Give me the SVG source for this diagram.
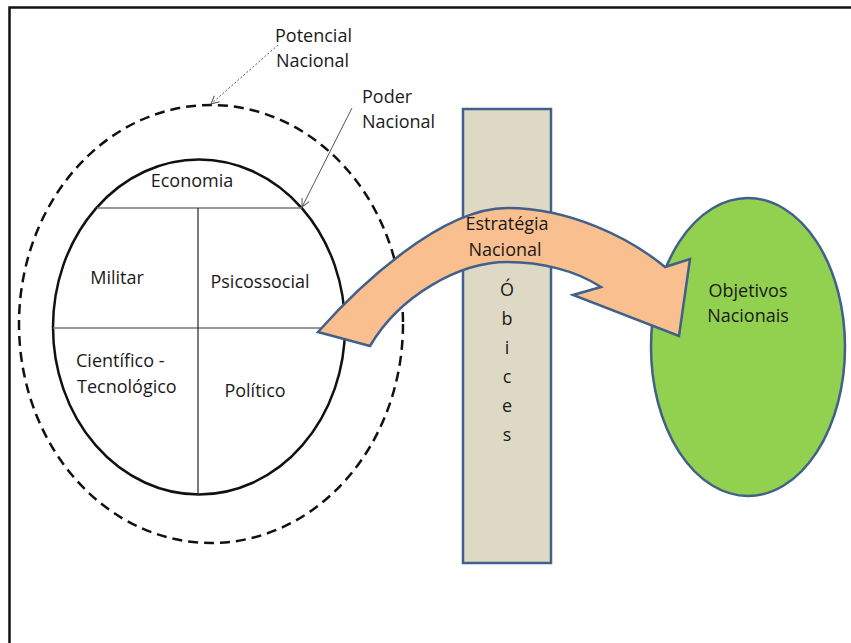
<svg xmlns="http://www.w3.org/2000/svg" width="851" height="643" viewBox="0 0 851 643">
<defs>
<style>
text{font-family:"Open Sans","Liberation Sans",sans-serif;font-size:18px;fill:#1a1a1a}
.mid{text-anchor:middle}
.div{stroke:#777;stroke-width:1.5;fill:none}
.ptr{stroke:#555;stroke-width:1;fill:none}
</style>
<marker id="open" markerWidth="10" markerHeight="10" refX="9" refY="5" orient="auto" markerUnits="userSpaceOnUse">
<path d="M1,1 L9,5 L1,9" fill="none" stroke="#555" stroke-width="1"/>
</marker>
</defs>
<rect x="9.5" y="7.5" width="900" height="700" fill="#fff" stroke="#111" stroke-width="2.5"/>

<g id="potencial-nacional">
<ellipse cx="211" cy="324" rx="192" ry="219" fill="none" stroke="#111" stroke-width="2.5" stroke-dasharray="10,6"/>
<text x="275" y="42">Potencial</text>
<text x="276" y="67">Nacional</text>
</g>

<g id="poder-nacional">
<ellipse cx="199" cy="327" rx="146" ry="167.5" fill="#fff" stroke="#111" stroke-width="2.5"/>
<line class="div" x1="97" y1="208" x2="302" y2="208"/>
<line class="div" x1="53" y1="328" x2="345" y2="328"/>
<line x1="198" y1="208" x2="198" y2="495" stroke="#222" stroke-width="1.2"/>
<text x="362" y="103">Poder</text>
<text x="362" y="128">Nacional</text>
</g>

<g id="economia"><text class="mid" x="192" y="187">Economia</text></g>
<g id="militar"><text class="mid" x="117" y="284">Militar</text></g>
<g id="psicossocial"><text class="mid" x="260" y="288">Psicossocial</text></g>
<g id="cientifico-tecnologico"><text x="76" y="367">Científico -</text><text x="77" y="393">Tecnológico</text></g>
<g id="politico"><text class="mid" x="255" y="397">Político</text></g>

<g id="obices">
<rect x="463" y="109" width="88" height="454" fill="#DDD9C4" stroke="#41608A" stroke-width="2.5"/>
<text class="mid" x="507" y="296">Ó</text>
<text class="mid" x="507" y="325">b</text>
<text class="mid" x="507" y="354">i</text>
<text class="mid" x="507" y="383">c</text>
<text class="mid" x="507" y="412">e</text>
<text class="mid" x="507" y="441">s</text>
</g>

<g id="objetivos-nacionais">
<ellipse cx="748" cy="347" rx="97" ry="149" fill="#92D050" stroke="#41608A" stroke-width="2.5"/>
<text class="mid" x="748" y="297">Objetivos</text>
<text class="mid" x="748" y="322">Nacionais</text>
</g>

<g id="estrategia-nacional">
<path d="M318,332 C357,288 440,208 507,208 C570,208 630,238 665,267 L690,259 L679,336 L573,295 L601,287 C575,270 540,262 507,262 C460,262 400,295 370,346 Z" fill="#F9BF8F" stroke="#41608A" stroke-width="2.5" stroke-linejoin="miter"/>
<text class="mid" x="507" y="230">Estratégia</text>
<text class="mid" x="505" y="256">Nacional</text>
</g>

<g id="connectors">
<line class="ptr" x1="278" y1="45" x2="211" y2="104" stroke-dasharray="2,2" marker-end="url(#open)"/>
<line class="ptr" x1="352" y1="108" x2="302" y2="207" marker-end="url(#open)"/>
</g>
</svg>
